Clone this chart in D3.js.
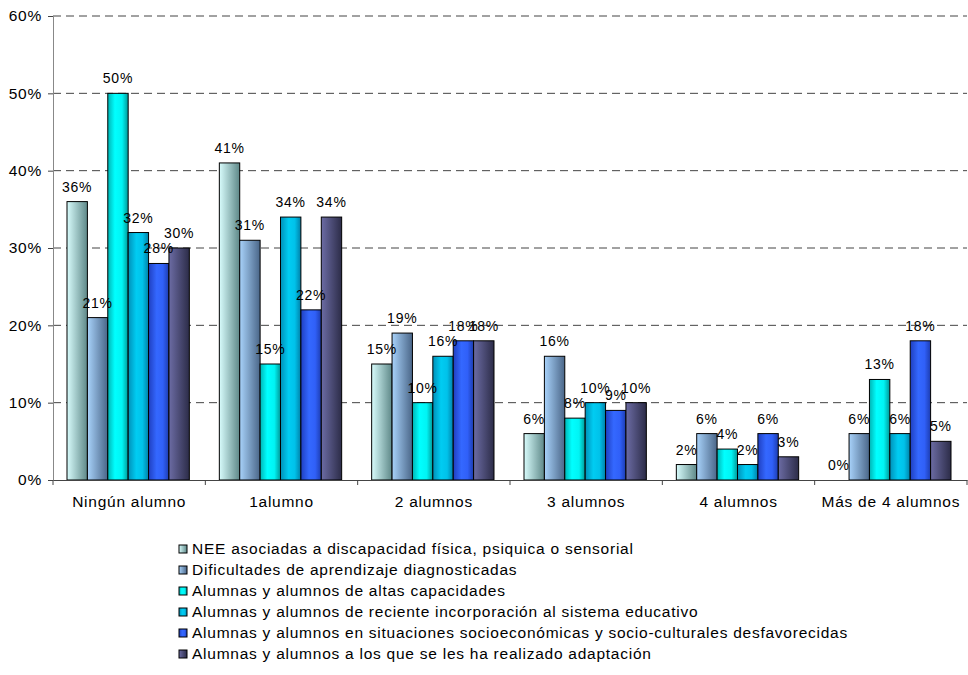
<!DOCTYPE html>
<html><head><meta charset="utf-8">
<script src="https://cdn.jsdelivr.net/npm/d3@7"></script>
<style>body{margin:0;background:#fff;} svg{display:block;font-family:"Liberation Sans",Arial,sans-serif;}</style>
</head><body><svg id="c" width="968" height="675"></svg>
<script>
const categories = ["Ningún alumno","1alumno","2 alumnos","3 alumnos","4 alumnos","Más de 4 alumnos"];
const seriesNames = [
  "NEE asociadas a discapacidad física, psiquica o sensorial",
  "Dificultades de aprendizaje diagnosticadas",
  "Alumnas y alumnos de altas capacidades",
  "Alumnas y alumnos de reciente incorporación al sistema educativo",
  "Alumnas y alumnos en situaciones socioeconómicas y socio-culturales desfavorecidas",
  "Alumnas y alumnos a los que se les ha realizado adaptación"
];
const nee = [0.36,0.41,0.15,0.06,0.02,0.00];
const dificultades = [0.21,0.31,0.19,0.16,0.06,0.06];
const altas = [0.50,0.15,0.10,0.08,0.04,0.13];
const reciente = [0.32,0.34,0.16,0.10,0.02,0.06];
const desfavorecidas = [0.28,0.22,0.18,0.09,0.06,0.18];
const adaptacion = [0.30,0.34,0.18,0.10,0.03,0.05];
const yTicks = [0,0.1,0.2,0.3,0.4,0.5,0.6];
const seriesValues = [nee,dificultades,altas,reciente,desfavorecidas,adaptacion];
const gradStops = [
  [[0,"#d8fcfc"],[1,"#5e8888"]],
  [[0,"#a8d2fa"],[1,"#4a6688"]],
  [[0,"#00b4b4"],[0.35,"#00ffff"],[0.7,"#00f4f4"],[1,"#009898"]],
  [[0,"#0090b8"],[0.4,"#00ccf2"],[0.7,"#00c2ea"],[1,"#0080a8"]],
  [[0,"#1f3fc0"],[0.4,"#3468ff"],[0.7,"#3060f8"],[1,"#1c3cb0"]],
  [[0,"#6c6ca4"],[1,"#2c2c48"]]
];

const svg = d3.select("#c");
const defs = svg.append("defs");
gradStops.forEach((st,i)=>{
  const g = defs.append("linearGradient").attr("id","g"+i).attr("x1","0").attr("x2","1").attr("y1","0").attr("y2","0");
  st.forEach(s=>g.append("stop").attr("offset",s[0]).attr("stop-color",s[1]));
});

const mLeft=53,mRight=967,mTop=16,mBottom=480;
const x = d3.scaleBand().domain(categories).range([mLeft,mRight]).paddingInner(0).paddingOuter(0);
const xs = d3.scaleBand().domain(d3.range(6)).range([14, x.bandwidth()-16]).padding(0);
const y = d3.scaleLinear().domain([0,0.6]).range([mBottom,mTop]);
const fmt = d3.format(".0%");

// gridlines
svg.append("g").selectAll("line").data(yTicks.filter(d=>d>0)).join("line")
  .attr("x1",mLeft).attr("x2",mRight).attr("y1",d=>y(d)).attr("y2",d=>y(d))
  .attr("stroke","#444").attr("stroke-width",1).attr("stroke-dasharray","8,5");

// y axis
const yAxis = d3.axisLeft(y).tickValues(yTicks).tickFormat(fmt).tickSize(5).tickPadding(6);
const ya = svg.append("g").attr("transform",`translate(${mLeft},0)`).call(yAxis);
ya.select(".domain").attr("stroke","#888");
ya.selectAll(".tick line").attr("stroke","#444");
ya.selectAll("text").attr("font-size",15.5).attr("letter-spacing","0.75px").attr("fill","#000").attr("font-family","Liberation Sans, Arial, sans-serif");

// bars
const groups = svg.append("g").selectAll("g").data(categories).join("g")
  .attr("transform",d=>`translate(${x(d)},0)`);
groups.each(function(cat,ci){
  const g = d3.select(this);
  const vals = seriesValues.map((s,si)=>({si,v:s[ci]}));
  g.selectAll("rect").data(vals.filter(d=>d.v>0)).join("rect")
    .attr("x",d=>xs(d.si)).attr("width",xs.bandwidth())
    .attr("y",d=>y(d.v)).attr("height",d=>y(0)-y(d.v))
    .attr("fill",d=>`url(#g${d.si})`).attr("stroke","#000").attr("stroke-width",1);
  g.selectAll("text").data(vals).join("text")
    .attr("x",d=>xs(d.si)+xs.bandwidth()/2).attr("y",d=>y(d.v)-10)
    .attr("text-anchor","middle").attr("font-size",14).attr("letter-spacing","0.75px").attr("fill","#000")
    .text(d=>fmt(d.v));
});

// x axis
const xAxis = d3.axisBottom(x).tickSize(0).tickPadding(16);
const xa = svg.append("g").attr("transform",`translate(0,${mBottom})`).call(xAxis);
xa.select(".domain").attr("stroke","#444");
xa.selectAll("text").attr("font-size",15.5).attr("letter-spacing","0.75px").attr("fill","#000").attr("font-family","Liberation Sans, Arial, sans-serif");
svg.append("g").selectAll("line").data(d3.range(7)).join("line")
  .attr("x1",i=>mLeft+i*x.bandwidth()).attr("x2",i=>mLeft+i*x.bandwidth())
  .attr("y1",mBottom).attr("y2",mBottom+5).attr("stroke","#444");

// legend
const lg = svg.append("g").attr("transform","translate(179,549)");
const items = lg.selectAll("g").data(seriesNames).join("g").attr("transform",(d,i)=>`translate(0,${i*21})`);
items.append("rect").attr("x",0).attr("y",-4).attr("width",8).attr("height",8)
  .attr("fill",(d,i)=>`url(#g${i})`).attr("stroke","#000").attr("stroke-width",1);
items.append("text").attr("x",13).attr("y",4.5).attr("font-size",15.5).attr("letter-spacing","0.75px").attr("fill","#000").text(d=>d);
</script></body></html>
